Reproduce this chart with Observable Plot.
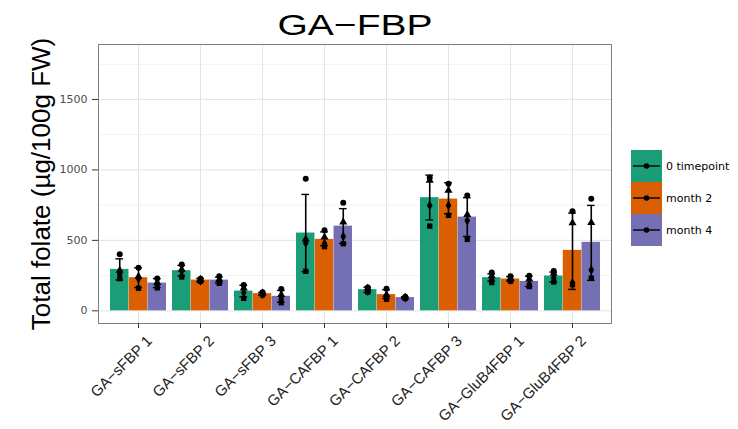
<!DOCTYPE html>
<html>
<head>
<meta charset="utf-8">
<script src="https://cdn.jsdelivr.net/npm/d3@7"></script>
<script src="https://cdn.jsdelivr.net/npm/@observablehq/plot@0.6"></script>
<style>
  html, body { margin: 0; padding: 0; background: #fff; overflow: hidden; }
  #wrap { position: relative; width: 738px; height: 429px; background: #fff; font-family: "Liberation Sans", Arial, sans-serif; }
  #chart { position: absolute; left: 0; top: 0; }
  #title { position: absolute; left: 154.5px; width: 400px; top: 9.6px; text-align: center;
           font-size: 30px; line-height: 30px; color: #000; transform: scaleX(1.3); transform-origin: 50% 50%; white-space: nowrap; }
  #ylab { position: absolute; left: -159px; width: 400px; top: 171px; height: 26px; line-height: 26px; text-align: center;
          font-size: 26px; color: #000; transform: rotate(-90deg); transform-origin: 50% 50%; white-space: nowrap; }
  #legend { position: absolute; left: 0; top: 0; pointer-events: none; }
</style>
</head>
<body>
<div id="wrap">
  <div id="chart"></div>
  <div id="title">GA−FBP</div>
  <div id="ylab">Total folate (µg/100g FW)</div>
  <svg id="legend" width="738" height="429"></svg>
</div>
<script>
// ---- data ----
const groups = ["GA−sFBP 1", "GA−sFBP 2", "GA−sFBP 3", "GA−CAFBP 1", "GA−CAFBP 2", "GA−CAFBP 3", "GA−GluB4FBP 1", "GA−GluB4FBP 2"];
const series = ["0 timepoint", "month 2", "month 4"];
const colors = ["#1b9e77", "#d95f02", "#7570b3"];

const mean0 = [294, 285, 140, 552, 150, 803, 235, 247];
const mean2 = [235, 218, 122, 507, 115, 793, 226, 429];
const mean4 = [197, 218, 103, 601, 94, 665, 209, 486];

const lo0 = [219, 248, 99, 278, 131, 645, 210, 205];
const hi0 = [369, 322, 181, 826, 168, 963, 262, 275];
const lo2 = [165, 206, 113, 462, 88, 689, 210, 152];
const hi2 = [305, 230, 131, 560, 150, 909, 243, 694];
const lo4 = [165, 197, 61, 478, 88, 528, 172, 216];
const hi4 = [229, 239, 145, 725, 100, 803, 246, 748];

const pts0 = [[401, 287, 260, 228], [328, 294, 280, 240], [183, 160, 130, 88], [938, 509, 481, 280], [165, 160, 140, 133], [945, 925, 748, 601], [272, 248, 222, 200], [282, 265, 235, 205]];
const pts2 = [[306, 245, 228, 160], [228, 222, 213, 209], [132, 125, 118, 113], [571, 523, 477, 455], [157, 115, 105, 82], [902, 855, 748, 677], [245, 230, 220, 210], [706, 623, 200, 186]];
const pts4 = [[230, 200, 195, 163], [245, 222, 211, 195], [155, 115, 85, 57], [767, 630, 528, 476], [100, 96, 92, 88], [819, 682, 641, 507], [248, 225, 190, 172], [796, 625, 290, 232]];

const yTicks = [0, 500, 1000, 1500];
const yMinor = [250, 750, 1250, 1750];
const yDomain = [-90, 1890];

// ---- tables ----
const means = [mean0, mean2, mean4];
const lows = [lo0, lo2, lo4];
const highs = [hi0, hi2, hi4];
const pts = [pts0, pts2, pts4];

const bars = [], errs = [], dots = [];
series.forEach((s, k) => groups.forEach((g, i) => {
  bars.push({group: g, series: s, k, value: means[k][i]});
  errs.push({group: g, series: s, k, lo: lows[k][i], hi: highs[k][i]});
  pts[k][i].forEach((v, j) => dots.push({group: g, series: s, k, rep: j, value: v}));
}));

// ---- layout ----
const W = 738, H = 429, mL = 98, mR = 127, mT = 44, mB = 106;
const step = (W - mL - mR) / (groups.length - 0.1 + 0.3);
const bw = 0.9 * step, sub = bw / 3, cap = 4;

const marks = [
  Plot.ruleY(yMinor, {stroke: "#f2f2f2", strokeWidth: 1}),
  Plot.ruleY(yTicks, {stroke: "#e3e3e3", strokeWidth: 1}),
  Plot.ruleX(groups, {stroke: "#e3e3e3", strokeWidth: 1})
];
series.forEach((s, k) => {
  marks.push(Plot.barY(bars.filter(d => d.k === k), {x: "group", y: "value", fill: colors[k], insetLeft: k * sub, insetRight: (2 - k) * sub}));
});
series.forEach((s, k) => {
  const e = errs.filter(d => d.k === k);
  marks.push(Plot.ruleX(e, {x: "group", y1: "lo", y2: "hi", dx: (k - 1) * sub, stroke: "black", strokeWidth: 1.6}));
  const il = k * sub + sub / 2 - cap, ir = (2 - k) * sub + sub / 2 - cap;
  marks.push(Plot.tickY(e, {x: "group", y: "lo", insetLeft: il, insetRight: ir, stroke: "black", strokeWidth: 1.4}));
  marks.push(Plot.tickY(e, {x: "group", y: "hi", insetLeft: il, insetRight: ir, stroke: "black", strokeWidth: 1.4}));
});
series.forEach((s, k) => {
  marks.push(Plot.dot(dots.filter(d => d.k === k), {x: "group", y: "value", dx: (k - 1) * sub, symbol: "rep", fill: "black", r: 3}));
});
marks.push(Plot.frame({stroke: "#7f7f7f", strokeWidth: 1}));
marks.push(Plot.axisY({ticks: yTicks, tickFormat: "d", tickSize: 6, tickPadding: 5, fontSize: 11, fontFamily: "DejaVu Sans", fill: "#4d4d4d", stroke: "#333", label: null}));
marks.push(Plot.axisX({tickSize: 5, fill: "none", stroke: "#333", label: null}));
marks.push(Plot.axisX({tickSize: 0, tickPadding: 15, tickRotate: -45, dx: 11, fontSize: 15, fontFamily: "Liberation Sans", fill: "#222", label: null}));

const chart = Plot.plot({
  width: W, height: H,
  marginLeft: mL, marginRight: mR, marginTop: mT, marginBottom: mB,
  style: {background: "white", fontFamily: "Liberation Sans"},
  x: {type: "band", domain: groups, paddingInner: 0.1, paddingOuter: 0.15, align: 0.5},
  y: {domain: yDomain},
  symbol: {domain: [0, 1, 2, 3], range: ["circle", "triangle", "diamond", "square"]},
  marks
});
document.getElementById("chart").appendChild(chart);

// ---- legend ----
const lg = d3.select("#legend");
const kx = 631, ky = 150, kw = 31, kh = 32;
series.forEach((s, k) => {
  const y0 = ky + k * kh;
  lg.append("rect").attr("x", kx).attr("y", y0).attr("width", kw).attr("height", kh).attr("fill", colors[k]);
  lg.append("line").attr("x1", kx + 2).attr("x2", kx + kw - 2).attr("y1", y0 + kh / 2).attr("y2", y0 + kh / 2).attr("stroke", "black").attr("stroke-width", 1.4);
  lg.append("circle").attr("cx", kx + kw / 2).attr("cy", y0 + kh / 2).attr("r", 2.8).attr("fill", "black");
  lg.append("text").attr("x", kx + kw + 4).attr("y", y0 + kh / 2).attr("dy", "0.35em")
    .attr("font-family", "DejaVu Sans").attr("font-size", 11).attr("fill", "#000").text(s);
});
</script>
</body>
</html>
